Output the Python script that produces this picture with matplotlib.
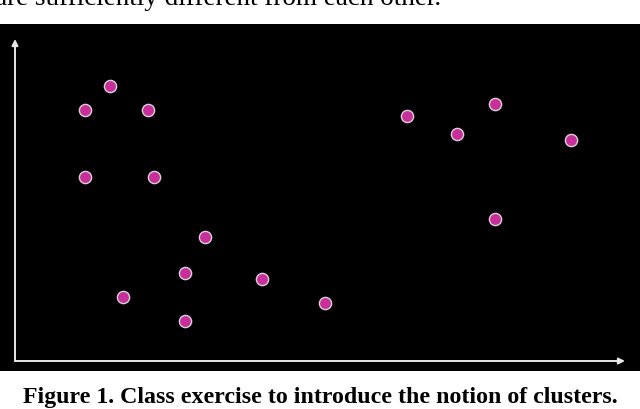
import matplotlib
matplotlib.use("Agg")
import matplotlib.pyplot as plt

# point positions, measured from the axis origin
xs = [95, 70, 133, 70, 139, 190, 170, 108, 247, 170, 310,
      392, 442, 480, 556, 480]
ys = [275, 251, 251, 184, 184, 124, 88, 64, 82, 40, 58,
      245, 227, 257, 221, 142]
caption = "Figure 1. Class exercise to introduce the notion of clusters."
top_text = "are sufficiently different from each other."

fig = plt.figure(figsize=(6.4, 4.1), dpi=100)
ax = fig.add_axes([0, 38 / 410, 1, 347 / 410])
ax.set_facecolor("black")
ax.set_xlim(-15, 625)
ax.set_ylim(-10, 337)
for s in ax.spines.values():
    s.set_visible(False)
ax.set_xticks([]); ax.set_yticks([])

arrow = dict(arrowstyle="-|>", color="#e8e8e8", lw=1.4, mutation_scale=9,
             shrinkA=0, shrinkB=0)
ax.annotate("", xy=(610, 0), xytext=(0, 0), arrowprops=arrow)
ax.annotate("", xy=(0, 322), xytext=(0, 0), arrowprops=arrow)

ax.plot(xs, ys, "o", ms=8.8, color="#c82f9b", mec="#d8d0d8", mew=1.0,
        zorder=3)

fig.text(0.5, 7 / 410, caption, ha="center", va="baseline",
         family="Liberation Serif", weight="bold", fontsize=17.2)
# only the lower half of this line shows in the crop
fig.text(-0.008, 1 - 5 / 410, top_text, ha="left", va="baseline",
         family="Liberation Serif", fontsize=19.5)

fig.savefig("out.png", dpi=100)
